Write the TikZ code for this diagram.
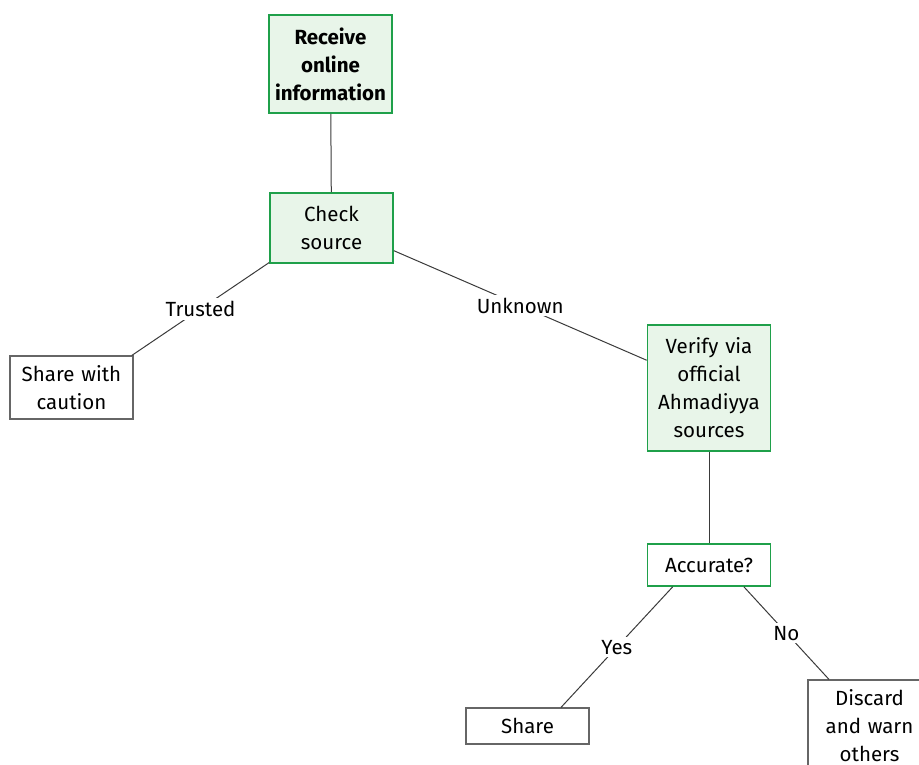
\documentclass[tikz,border=0pt]{standalone}
\usepackage{fontspec}
\setmainfont{Fira Sans}
\definecolor{gborder}{HTML}{1FA04A}
\definecolor{gfill}{HTML}{E8F5E9}
\definecolor{gyborder}{HTML}{666666}
\definecolor{edgec}{HTML}{3A3A3A}
\begin{document}
\begin{tikzpicture}[x=1pt,y=-1pt,
  every node/.style={font=\fontsize{20.5}{28}\selectfont},
  box/.style={rectangle, align=center, text width=119pt, minimum width=123pt, inner xsep=2pt, inner ysep=0pt},
  gbox/.style={box, draw=gborder, line width=1.6pt, fill=gfill},
  gwbox/.style={box, draw=gborder, line width=1.6pt, fill=white},
  gybox/.style={box, draw=gyborder, line width=1.1pt, fill=white},
  conn/.style={draw=edgec, line width=1pt},
  lab/.style={fill=white, inner sep=3pt}]
\useasboundingbox (0,0) rectangle (919,765);
\clip (0,0) rectangle (919,765);
\node[gbox, minimum height=98pt] (recv) at (330.5,64) {\textbf{Receive}\\\textbf{online}\\\textbf{information}};
\node[gbox, minimum height=70pt] (check) at (331.5,228) {Check\\source};
\node[gybox, minimum height=63pt] (caution) at (71.5,387.5) {Share with\\caution};
\node[gbox, minimum height=126pt] (verify) at (709,388) {Verify via\\official\\Ahmadiyya\\sources};
\node[gwbox, minimum height=42pt] (acc) at (709,565) {Accurate?};
\node[gybox, minimum height=36pt] (share) at (527.5,726) {Share};
\node[gybox, minimum height=92pt] (discard) at (869.5,726) {Discard\\and warn\\others};

\draw[conn] (recv) -- (check);
\draw[conn] (check.209.8) -- node[lab] {Trusted} (caution.28.3);
\draw[conn] (check.340.5) -- node[lab] {Unknown} (verify.156.5);
\draw[conn] (verify) -- (acc);
\draw[conn] (acc.211) -- node[lab] {Yes} (share.29);
\draw[conn] (acc.328.3) -- node[lab] {No} (discard.131.6);
\end{tikzpicture}
\end{document}
